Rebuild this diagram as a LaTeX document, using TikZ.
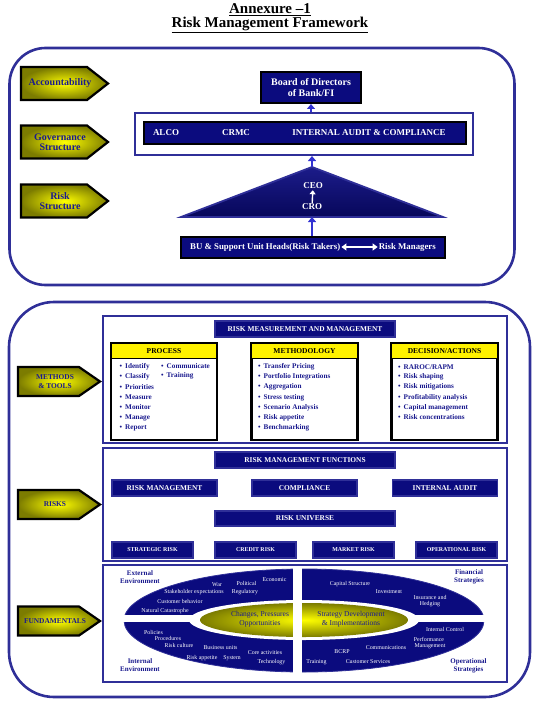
\documentclass[tikz,border=0pt]{standalone}
\usepackage{fontspec}
\setmainfont{Liberation Serif}
\usetikzlibrary{arrows.meta,positioning,calc}
\definecolor{navy}{HTML}{0B0B7E}
\definecolor{frame}{HTML}{2F2F98}
\definecolor{ink}{HTML}{1A1A8E}
\definecolor{upblue}{HTML}{3232D2}
\definecolor{olivey}{HTML}{7C7C00}
\definecolor{trisky}{HTML}{1C1C8A}
\definecolor{trideep}{HTML}{07075A}
\newcommand{\fsz}[2]{\fontsize{#1}{#2}\selectfont}
\tikzset{
  title/.style={font=\fsz{15}{17}\bfseries, text=black, inner sep=0pt},
  shell/.style={draw=frame, line width=2.6pt, rounded corners=#1},
  panel/.style={draw=frame, line width=1.8pt, fill=white},
  tagfill/.style={draw=black, line width=2.2pt, inner color=yellow, outer color=olivey},
  tagtxt/.style={text=ink, align=center, inner sep=0pt},
  navybox/.style={fill=navy, draw=black, line width=2pt, text=white, inner sep=1pt},
  wtxt/.style={text=white, font=\fsz{9}{10}\bfseries, inner sep=1pt},
  bar/.style={fill=navy, draw=frame, line width=1.2pt, text=white, font=\fsz{7.4}{8}\bfseries, inner sep=0pt},
  col/.style={draw=black, line width=2.6pt, fill=white, minimum width=106, minimum height=97},
  hdr/.style={draw=black, line width=1.2pt, fill=yellow, minimum width=106, minimum height=15, font=\fsz{7.5}{8}\bfseries, text=black, inner sep=0pt},
  item/.style={anchor=west, font=\fsz{7.2}{8}\bfseries, text=ink, inner sep=0pt},
  cornerlab/.style={font=\fsz{7}{8}\bfseries, text=ink, align=center, inner sep=0pt},
  wlab/.style={font=\fsz{5.9}{6}, text=white, inner sep=0pt},
  ytxt/.style={font=\fsz{7.5}{9}, text=ink, align=center, inner sep=0pt},
  uparr/.style={draw=upblue, line width=2.2pt, -{Triangle[length=5pt,width=8pt]}},
  whitearr/.style={draw=white, line width=1.4pt, -{Triangle[length=4pt,width=6pt]}},
  dblarr/.style={draw=white, line width=1.4pt, {Triangle[length=5pt,width=7pt]}-{Triangle[length=5pt,width=7pt]}},
}

\begin{document}
\begin{tikzpicture}[x=1pt, y=-1pt]
  \useasboundingbox (0,0) rectangle (539,706);
  % heading
  \node[title] (annex) at (270,10) {\underline{Annexure --1}};
  \node[title] (heading) at (270,25) {\underline{Risk Management Framework}};

  % upper block: governance
  \node[shell=36pt, minimum width=505, minimum height=237] (upper) at (262,166.5) {};
  \foreach \n/\y/\t in {acc/83.5/Accountability, gov/142/Governance\\Structure, rstr/201/Risk\\Structure} {
    \shadedraw[tagfill] (21,\y-16.5) -- (87,\y-16.5) -- (108,\y) -- (87,\y+16.5) -- (21,\y+16.5) -- cycle;
    \node[tagtxt, font=\fsz{10}{10}\bfseries] (\n) at (60,\y) {\t};
  }

  \node[navybox, minimum width=100, minimum height=31, font=\fsz{10}{11}\bfseries, align=center] (board) at (311,87.5) {Board of Directors\\of Bank/FI};
  \node[panel, line width=2pt, minimum width=338, minimum height=42] (cttee) at (304,134) {};
  \node[navybox, minimum width=322, minimum height=22] (cttbar) at (305,133) {};
  \node[wtxt] (alco) at (166,133) {ALCO};
  \node[wtxt] (crmc) at (236,133) {CRMC};
  \node[wtxt] (iac) at (369,133) {INTERNAL AUDIT \& COMPLIANCE};
  \draw[uparr] (board.south |- cttee.north) -- (board.south);

  \coordinate (apex) at (312,167);
  \coordinate (tleft) at (181,217);
  \coordinate (tright) at (443,217);
  \coordinate (tbase) at (312,217);
  \shade[top color=trisky, bottom color=trideep] (tleft) -- (apex) -- (tright) -- cycle;
  \draw[frame, line width=1.8pt, line join=miter] (tleft) -- (apex) -- (tright) -- cycle;
  \node[wtxt] (ceo) at (313,186) {CEO};
  \node[wtxt] (cro) at (312,207) {CRO};
  \draw[whitearr] (cro) -- (ceo);
  \draw[uparr] (apex) -- (apex |- cttee.south);

  \node[navybox, minimum width=264, minimum height=21] (bu) at (313,247) {};
  \node[wtxt, font=\fsz{8.8}{10}\bfseries, anchor=west] (takers) at (189,247) {BU \& Support Unit Heads(Risk Takers)};
  \node[wtxt, font=\fsz{8.8}{10}\bfseries, anchor=east] (mgrs) at (437,247) {Risk Managers};
  \draw[dblarr] (takers) -- (mgrs);
  \draw[uparr] (bu.north -| tbase) -- (tbase);

  % lower block
  \node[shell=45pt, minimum width=521, minimum height=395] (lower) at (269.5,499.5) {};
  \foreach \n/\y/\t in {mtools/381.5/METHODS\\\& TOOLS, rsk/504.5/RISKS, fund/621/FUNDAMENTALS} {
    \shadedraw[tagfill] (18,\y-14.5) -- (79,\y-14.5) -- (100,\y) -- (79,\y+14.5) -- (18,\y+14.5) -- cycle;
    \node[tagtxt, font=\fsz{7.4}{8.2}\bfseries] (\n) at (55,\y) {\t};
  }

  % methods & tools
  \node[panel, minimum width=404, minimum height=127] (pmeth) at (305,379.5) {};
  \node[bar, minimum width=180, minimum height=16] (rmm) at (305,329) {RISK MEASUREMENT AND MANAGEMENT};
  \node[col] (proc) at (164,391.5) {};
  \node[col] (meth) at (304.5,391.5) {};
  \node[col] (dec) at (444.5,391.5) {};
  \node[hdr] (prochd) at (164,351) {PROCESS};
  \node[hdr] (methhd) at (304.5,351) {METHODOLOGY};
  \node[hdr] (dechd) at (444.5,351) {DECISION/ACTIONS};
  \foreach \t [count=\i] in {Identify,Classify,Priorities,Measure,Monitor,Manage,Report}
    \node[item] (pa\i) at (119.5,{356.9+10.1*\i}) {\textbullet\hspace{3pt}\t};
  \foreach \t [count=\i] in {Communicate,Training}
    \node[item] (pb\i) at (161,{356.5+9.5*\i}) {\textbullet\hspace{3pt}\t};
  \foreach \t [count=\i] in {Transfer Pricing,Portfolio Integrations,Aggregation,Stress testing,Scenario Analysis,Risk appetite,Benchmarking}
    \node[item] (m\i) at (258,{356.9+10.1*\i}) {\textbullet\hspace{3pt}\t};
  \foreach \t [count=\i] in {RAROC/RAPM,Risk shaping,Risk mitigations,Profitability analysis,Capital management,Risk concentrations}
    \node[item] (d\i) at (398,{356.9+10.1*\i}) {\textbullet\hspace{3pt}\t};

  % risks
  \node[panel, minimum width=404, minimum height=113] (prisk) at (305,504.5) {};
  \node[bar, minimum width=180, minimum height=16] (rmf) at (305,460) {RISK MANAGEMENT FUNCTIONS};
  \node[bar, minimum width=105, minimum height=16] (rmg) at (164.5,488) {RISK MANAGEMENT};
  \node[bar, minimum width=105, minimum height=16] (comp) at (304.5,488) {COMPLIANCE};
  \node[bar, minimum width=105, minimum height=16] (iaud) at (445,488) {INTERNAL AUDIT};
  \node[bar, minimum width=180, minimum height=15] (runiv) at (305,518.5) {RISK UNIVERSE};
  \foreach \n/\x/\t in {strat/152.5/STRATEGIC RISK, cred/255.5/CREDIT RISK, mkt/353.5/MARKET RISK, oper/456.5/OPERATIONAL RISK}
    \node[bar, minimum width=81, minimum height=16, font=\fsz{5.9}{6}\bfseries] (\n) at (\x,550) {\t};

  % fundamentals
  \node[panel, minimum width=404, minimum height=117] (pfund) at (305,623.5) {};
  \fill[navy, draw=frame, line width=0.8pt] (304,620.5) ellipse [x radius=180, y radius=51.5];
  \fill[white] (304,620) ellipse [x radius=115, y radius=20];
  \shade[inner color=yellow, outer color=olivey] (304,620) ellipse [x radius=104, y radius=17];
  \fill[white] (293,567) rectangle (302,679);
  \fill[white] (118,615) rectangle (200,622);
  \fill[white] (408,615) rectangle (490,622);
  \node[cornerlab] (extenv) at (140,577) {External\\Environment};
  \node[cornerlab] (intenv) at (140,665) {Internal\\Environment};
  \node[cornerlab] (finstr) at (469,577) {Financial\\Strategies};
  \node[cornerlab] (opstr) at (468.5,665.5) {Operational\\Strategies};
  \node[ytxt] (chg) at (260,619.5) {Changes, Pressures\\Opportunities};
  \node[ytxt] (sdev) at (351,619) {Strategy Development\\\& Implementations};
  \foreach \x/\y/\t [count=\k] in {217/585/War, 246.5/583/Political, 274.5/580/Economic,
      194/592/Stakeholder expectations, 245/592/Regulatory, 180/601/Customer behavior,
      165/611/Natural Catastrophe, 153.5/632/Policies, 168/638/Procedures, 179/645/Risk culture,
      220.5/648/Business units, 265/653/Core activities, 202/658/Risk appetite, 232/658/System,
      271.5/662/Technology, 350/584/Capital Structure, 389/592/Investment, 430/597/Insurance and,
      430/604/Hedging, 445/629/Internal Control, 429/639/Performance, 430/646/Management,
      386/648/Communications, 342/652/BCRP, 316.5/662/Training, 368/662/Customer Services}
    \node[wlab] (f\k) at (\x,\y) {\t};
\end{tikzpicture}
\end{document}
